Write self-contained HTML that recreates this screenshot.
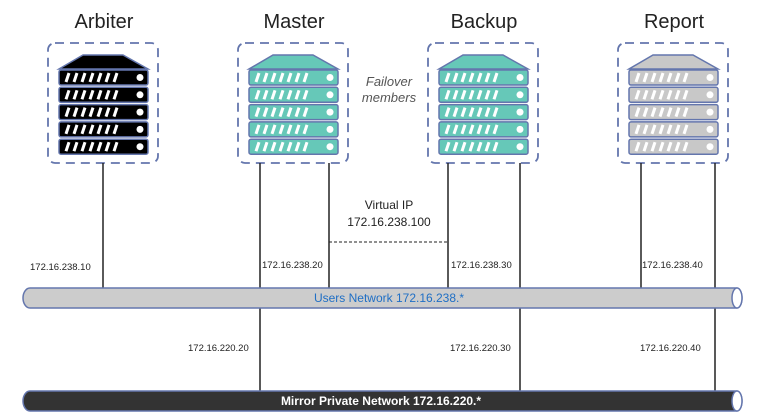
<!DOCTYPE html>
<html><head><meta charset="utf-8"><style>
html,body{margin:0;padding:0;background:#fff}
svg{display:block}
text{font-family:"Liberation Sans",sans-serif}
</style></head><body>
<svg width="762" height="416" viewBox="0 0 762 416" xmlns="http://www.w3.org/2000/svg">
<defs>
<g id="srv">
  <path d="M83 55 L123 55 L148 69 L59 69 Z" stroke="#6476ad" stroke-width="1.5"/>
  <g id="unit">
    <rect x="59" y="70" width="89" height="15" rx="2" stroke="#6476ad" stroke-width="1.5"/>
    <g stroke="#fff" stroke-width="3">
      <line x1="66" y1="82" x2="69" y2="73"/><line x1="74" y1="82" x2="77" y2="73"/>
      <line x1="82" y1="82" x2="85" y2="73"/><line x1="90" y1="82" x2="93" y2="73"/>
      <line x1="98" y1="82" x2="101" y2="73"/><line x1="106" y1="82" x2="109" y2="73"/>
      <line x1="114" y1="82" x2="117" y2="73"/>
    </g>
    <circle cx="140" cy="77.5" r="3.5" fill="#fff"/>
  </g>
  <use href="#unit" y="17.3"/><use href="#unit" y="34.6"/><use href="#unit" y="51.9"/><use href="#unit" y="69.2"/>
</g>
</defs>
<g fill="none" stroke="#6476ad" stroke-width="1.8" stroke-dasharray="9,6">
<rect x="48" y="43" width="110" height="120" rx="7"/>
<rect x="238" y="43" width="110" height="120" rx="7"/>
<rect x="428" y="43" width="110" height="120" rx="7"/>
<rect x="618" y="43" width="110" height="120" rx="7"/>
</g>
<use href="#srv" fill="#000"/>
<use href="#srv" x="190" fill="#66c8b8"/>
<use href="#srv" x="380" fill="#66c8b8"/>
<use href="#srv" x="570" fill="#c8c8c8"/>
<g font-size="20" fill="#222" text-anchor="middle">
<text x="104" y="28">Arbiter</text><text x="294" y="28">Master</text>
<text x="484" y="28">Backup</text><text x="674" y="28">Report</text>
</g>
<text x="389" y="86" font-size="13" font-style="italic" fill="#555" text-anchor="middle">Failover</text>
<text x="389" y="102" font-size="13" font-style="italic" fill="#555" text-anchor="middle">members</text>
<g stroke="#222" stroke-width="1.5">
<line x1="103" y1="163" x2="103" y2="289"/>
<line x1="260" y1="163" x2="260" y2="391"/>
<line x1="329" y1="163" x2="329" y2="289"/>
<line x1="448" y1="163" x2="448" y2="289"/>
<line x1="520" y1="163" x2="520" y2="391"/>
<line x1="641" y1="163" x2="641" y2="289"/>
<line x1="715" y1="163" x2="715" y2="391"/>
</g>
<line x1="329" y1="242" x2="448" y2="242" stroke="#222" stroke-width="1" stroke-dasharray="3,2"/>
<g font-size="12" fill="#222" text-anchor="middle">
<text x="389" y="209">Virtual IP</text><text x="389" y="226">172.16.238.100</text>
</g>
<g font-size="9.5" fill="#222">
<text x="30" y="270">172.16.238.10</text><text x="262" y="268">172.16.238.20</text>
<text x="451" y="268">172.16.238.30</text><text x="642" y="268">172.16.238.40</text>
<text x="188" y="351">172.16.220.20</text><text x="450" y="351">172.16.220.30</text>
<text x="640" y="351">172.16.220.40</text>
</g>
<path d="M30 288 L737 288 A5 10 0 0 1 737 308 L30 308 A7 10 0 0 1 30 288 Z" fill="#cccccc" stroke="#6476ad" stroke-width="1.5"/>
<ellipse cx="737" cy="298" rx="5" ry="10" fill="#fff" stroke="#6476ad" stroke-width="1.5"/>
<text x="389" y="302" font-size="12" fill="#1f6fc5" text-anchor="middle">Users Network  172.16.238.*</text>
<path d="M30 391 L737 391 A5 10 0 0 1 737 411 L30 411 A7 10 0 0 1 30 391 Z" fill="#333" stroke="#6476ad" stroke-width="1.5"/>
<ellipse cx="737" cy="401" rx="5" ry="10" fill="#fff" stroke="#6476ad" stroke-width="1.5"/>
<text x="381" y="405" font-size="12" font-weight="bold" fill="#fff" text-anchor="middle">Mirror Private Network 172.16.220.*</text>
</svg>
</body></html>
